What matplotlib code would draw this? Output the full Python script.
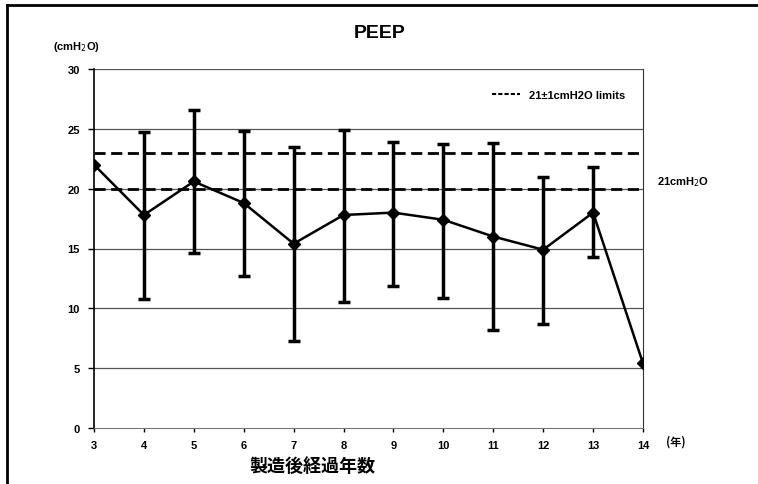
import matplotlib
matplotlib.use("Agg")
import matplotlib.pyplot as plt
from matplotlib.lines import Line2D

plt.rcParams['font.family'] = ['Liberation Sans', 'Noto Sans CJK JP', 'DejaVu Sans']

years = [3, 4, 5, 6, 7, 8, 9, 10, 11, 12, 13, 14]
mean = [22.0, 17.8, 20.6, 18.8, 15.4, 17.8, 18.0, 17.4, 16.0, 14.9, 18.0, 5.4]
upper = [None, 24.7, 26.6, 24.8, 23.5, 24.9, 23.9, 23.7, 23.8, 21.0, 21.8, None]
lower = [None, 10.8, 14.6, 12.7, 7.3, 10.5, 11.9, 10.9, 8.2, 8.7, 14.3, None]
limits = [23, 20]
yticks = [0, 5, 10, 15, 20, 25, 30]

fig = plt.figure(figsize=(7.58, 4.85), dpi=100)
W, H = 758, 485
ax = fig.add_axes([94 / W, 1 - 429 / H, (643 - 94) / W, (429 - 70) / H])

# outer frame (top and left edges only)
fig.add_artist(Line2D([7 / W, 1], [1 - 6 / H, 1 - 6 / H], transform=fig.transFigure,
                      color='black', linewidth=2))
fig.add_artist(Line2D([7 / W, 7 / W], [0, 1 - 6 / H], transform=fig.transFigure,
                      color='black', linewidth=2))

for yv in yticks[1:]:
    ax.axhline(yv, color='#555555', linewidth=0.9, zorder=1)

for lv in limits:
    ax.axhline(lv, color='black', linestyle=(0, (4, 2)), linewidth=2, zorder=2)

ex, elo, ehi, em = [], [], [], []
for x, m, u, l in zip(years, mean, upper, lower):
    if u is not None:
        ex.append(x); em.append(m); ehi.append(u - m); elo.append(m - l)
ax.errorbar(ex, em, yerr=[elo, ehi], fmt='none', ecolor='black', elinewidth=2.5,
            capsize=4, capthick=2.5, zorder=3)
ax.plot(years, mean, color='black', linewidth=1.8, marker='D', markersize=6, zorder=4)

ax.set_xlim(3, 14)
ax.set_ylim(0, 30)
ax.set_xticks(years)
ax.set_xticklabels([str(y) for y in years], fontsize=8, fontweight='bold')
ax.set_yticks(yticks)
ax.set_yticklabels([str(y) for y in yticks], fontsize=8, fontweight='bold')
ax.tick_params(axis='both', length=3, width=1, direction='out', pad=6)
ax.tick_params(axis='y', length=4)
ax.spines['top'].set_visible(False)
ax.spines['right'].set_color('#333333')
ax.spines['left'].set_linewidth(1.2)
ax.spines['bottom'].set_color('#777777')

# legend
leg_handle = Line2D([0], [0], color='black', linestyle=(0, (2, 1)), linewidth=1.5)
ax.legend([leg_handle], ['21±1cmH2O limits'], loc='upper right', frameon=False,
          prop={'size': 8, 'weight': 'bold'}, handlelength=2.5, bbox_to_anchor=(0.985, 0.97))

fig.text(380 / W, 1 - 33 / H, 'PEEP', ha='center', va='center', fontsize=14, fontweight='bold')
fig.text(76 / W, 1 - 47 / H, '(cmH$_2$O)', ha='center', va='center', fontsize=8, fontweight='bold')
fig.text(657 / W, 1 - 182 / H, '21cmH$_2$O', ha='left', va='center', fontsize=8, fontweight='bold')
fig.text(676 / W, 1 - 442 / H, '(年)', ha='center', va='center', fontsize=8, fontweight='bold',
         family=['Noto Sans CJK JP', 'DejaVu Sans'])
fig.text(312 / W, 1 - 466 / H, '製造後経過年数', ha='center', va='center', fontsize=13, fontweight='bold',
         family=['Noto Sans CJK JP', 'DejaVu Sans'])

fig.savefig('out.png', dpi=100)
